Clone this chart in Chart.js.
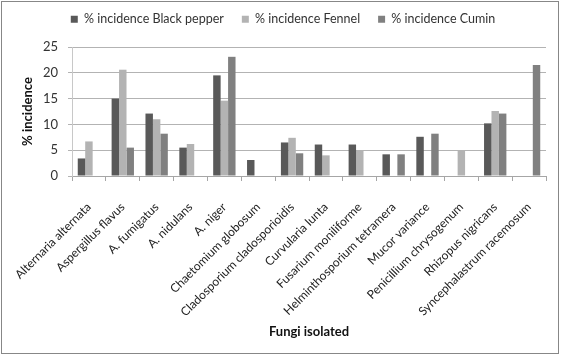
<!DOCTYPE html>
<html>
<head>
<meta charset="utf-8">
<script src="https://cdn.jsdelivr.net/npm/chart.js@4"></script>
<style>
html,body{margin:0;padding:0;background:#fff;}
#wrap{width:561px;height:356px;position:relative;}
</style>
</head>
<body>
<div id="wrap"><canvas id="c" width="561" height="356"></canvas></div>
<script>
const categories = ["Alternaria alternata","Aspergillus flavus","A. fumigatus","A. nidulans","A. niger","Chaetomium globosum","Cladosporium cladosporioidis","Curvularia lunta","Fusarium moniliforme","Helminthosporium tetramera","Mucor variance","Penicillium chrysogenum","Rhizopus nigricans","Syncephalastrum racemosum"];
const blackPepper = [3.4,15.0,12.1,5.5,19.5,3.1,6.5,6.1,6.1,4.2,7.6,0,10.2,0];
const fennel = [6.7,20.6,11.0,6.2,14.6,0,7.4,4.0,5.0,0,0,5.0,12.6,0];
const cumin = [0,5.5,8.2,0,23.1,0,4.4,0,0,4.2,8.2,0,12.1,21.5];
const seriesNames = ["% incidence Black pepper","% incidence Fennel","% incidence Cumin"];
const yTicks = [0,5,10,15,20,25];

const FONT = "Lato, 'Open Sans', sans-serif";
const TOP_PAD = -5;
const borderPlugin = {
  id:'outerBorder',
  beforeLayout(chart){
    const lg = chart.legend;
    if (lg && !lg._wrapped){
      const f = lg.fit;
      lg.fit = function(){ f.call(this); this.height = 47 - TOP_PAD; };
      lg._wrapped = true;
    }
  },
  beforeDraw(chart){
    const ctx = chart.ctx;
    ctx.save();
    ctx.fillStyle='#fff';
    ctx.fillRect(0,0,chart.width,chart.height);
    ctx.strokeStyle='#878787';
    ctx.lineWidth=1;
    ctx.strokeRect(1.5,1.5,chart.width-4,chart.height-4);
    ctx.restore();
  }
};

new Chart(document.getElementById('c'), {
  type:'bar',
  data:{
    labels:categories,
    datasets:[
      {label:seriesNames[0], data:blackPepper, backgroundColor:'#595959'},
      {label:seriesNames[1], data:fennel, backgroundColor:'#b3b3b3'},
      {label:seriesNames[2], data:cumin, backgroundColor:'#808080'}
    ]
  },
  options:{
    responsive:false,
    animation:false,
    devicePixelRatio:1,
    datasets:{bar:{barPercentage:1.0, categoryPercentage:0.66}},
    layout:{padding:{top:TOP_PAD,left:20,right:15,bottom:10}},
    plugins:{
      legend:{
        display:true,
        position:'top',
        align:'center',
        labels:{boxWidth:7,boxHeight:7,padding:18,color:'#333',font:{family:FONT,size:12.5}}
      },
      tooltip:{enabled:false}
    },
    scales:{
      x:{
        grid:{display:true,drawOnChartArea:false,offset:true,tickLength:5,color:'#a6a6a6'},
        border:{display:true,color:'#a6a6a6'},
        ticks:{autoSkip:false,maxRotation:45,minRotation:45,padding:19,color:'#222',font:{family:FONT,size:12}},
        title:{display:true,text:'Fungi isolated',color:'#111',font:{family:FONT,size:13,weight:'bold'},padding:{top:0,bottom:6}},
        afterFit(s){ s.height = 356-10-176; s.paddingLeft = 0; s.paddingRight = 0; s.paddingTop = 0; s.paddingBottom = 0; }
      },
      y:{
        min:0,max:25,
        afterBuildTicks(s){ s.ticks = yTicks.map(v=>({value:v})); },
        grid:{color:'#b3b3b3',tickLength:4},
        border:{display:true,color:'#c8c8c8'},
        ticks:{padding:10,color:'#333',font:{family:FONT,size:13}},
        title:{display:true,text:'% incidence',color:'#111',font:{family:FONT,size:13,weight:'bold'},padding:{top:0,bottom:0}},
        afterFit(s){ s.width = 72-20; s.paddingTop = 0; s.paddingBottom = 0; }
      }
    }
  },
  plugins:[borderPlugin]
});
</script>
</body>
</html>
